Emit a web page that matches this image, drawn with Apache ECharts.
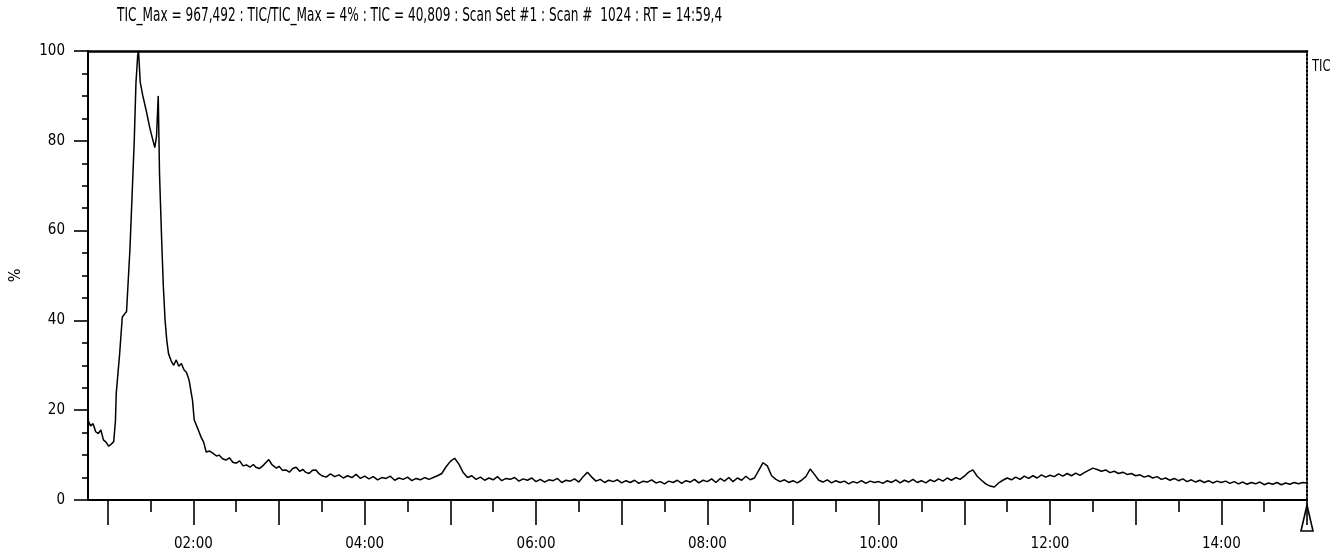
<!DOCTYPE html>
<html>
<head>
<meta charset="utf-8">
<title>TIC</title>
<script src="https://cdn.jsdelivr.net/npm/echarts@6/dist/echarts.min.js"></script>
<style>
  html, body { margin: 0; padding: 0; background: #fff; }
  #chart { width: 1335px; height: 558px; }
</style>
</head>
<body>
<div id="chart"></div>
<script>
// retention time (min) and relative abundance (%)
// main peak region
const peakRt = [
  0.77, 0.80, 0.83, 0.86, 0.89, 0.92, 0.95, 0.98, 1.01, 1.04, 1.07, 1.09, 1.10, 1.14, 1.17, 1.20,
  1.22, 1.24, 1.26, 1.29, 1.31, 1.33, 1.35, 1.36, 1.38, 1.41, 1.45, 1.49, 1.52, 1.55, 1.57, 1.59,
  1.605, 1.63, 1.65, 1.67, 1.69, 1.71, 1.74, 1.77, 1.80, 1.83, 1.86, 1.89, 1.92, 1.95, 1.99, 2.01,
  2.06, 2.09, 2.12, 2.15, 2.19, 2.23, 2.27, 2.30, 2.34, 2.38, 2.42, 2.46, 2.50, 2.54, 2.58, 2.62,
  2.66, 2.70, 2.73, 2.77, 2.81, 2.85, 2.88, 2.92, 2.97, 3.00, 3.04, 3.08, 3.12, 3.16, 3.20, 3.24,
  3.28, 3.31, 3.35, 3.39, 3.43, 3.47, 3.50
]
const peakAbund = [
  17.8, 16.5, 17.0, 15.2, 14.8, 15.6, 13.4, 12.9, 12.0, 12.4, 13.0, 17.5, 23.8, 32.7, 40.7, 41.5,
  42.0, 49.0, 56.0, 70.4, 80.0, 93.0, 99.0, 100.0, 93.0, 90.0, 86.7, 83.0, 80.7, 78.5, 81.0, 90.0,
  72.6, 57.8, 47.4, 40.0, 35.5, 32.6, 31.0, 30.0, 31.2, 29.8, 30.4, 29.0, 28.4, 26.7, 22.2, 17.8,
  15.5, 14.0, 12.9, 10.7, 10.9, 10.4, 9.8, 10.0, 9.2, 8.9, 9.4, 8.4, 8.2, 8.7, 7.6, 7.8,
  7.3, 7.9, 7.3, 7.0, 7.6, 8.4, 9.0, 7.8, 7.1, 7.5, 6.6, 6.7, 6.2, 7.0, 7.3, 6.4,
  6.8, 6.2, 5.9, 6.6, 6.7, 5.8, 5.4
]
// baseline after the peak
const tailRt = [
  3.55, 3.60, 3.65, 3.70, 3.75, 3.80, 3.85, 3.90, 3.95, 4.00,
  4.05, 4.10, 4.15, 4.20, 4.25, 4.30, 4.35, 4.40, 4.45, 4.50, 4.55, 4.60, 4.65, 4.70, 4.75, 4.80, 4.85, 4.90, 4.95, 5.00,
  5.05, 5.10, 5.15, 5.20, 5.25, 5.30, 5.35, 5.40, 5.45, 5.50, 5.55, 5.60, 5.65, 5.70, 5.75, 5.80, 5.85, 5.90, 5.95, 6.00,
  6.05, 6.10, 6.15, 6.20, 6.25, 6.30, 6.35, 6.40, 6.45, 6.50, 6.55, 6.60, 6.65, 6.70, 6.75, 6.80, 6.85, 6.90, 6.95, 7.00,
  7.05, 7.10, 7.15, 7.20, 7.25, 7.30, 7.35, 7.40, 7.45, 7.50, 7.55, 7.60, 7.65, 7.70, 7.75, 7.80, 7.85, 7.90, 7.95, 8.00,
  8.05, 8.10, 8.15, 8.20, 8.25, 8.30, 8.35, 8.40, 8.45, 8.50, 8.55, 8.60, 8.65, 8.70, 8.75, 8.80, 8.85, 8.90, 8.95, 9.00,
  9.05, 9.10, 9.15, 9.20, 9.25, 9.30, 9.35, 9.40, 9.45, 9.50, 9.55, 9.60, 9.65, 9.70, 9.75, 9.80, 9.85, 9.90, 9.95, 10.00,
  10.05, 10.10, 10.15, 10.20, 10.25, 10.30, 10.35, 10.40, 10.45, 10.50, 10.55, 10.60, 10.65, 10.70, 10.75, 10.80, 10.85, 10.90, 10.95, 11.00,
  11.05, 11.10, 11.15, 11.20, 11.25, 11.30, 11.35, 11.40, 11.45, 11.50, 11.55, 11.60, 11.65, 11.70, 11.75, 11.80, 11.85, 11.90, 11.95, 12.00,
  12.05, 12.10, 12.15, 12.20, 12.25, 12.30, 12.35, 12.40, 12.45, 12.50, 12.55, 12.60, 12.65, 12.70, 12.75, 12.80, 12.85, 12.90, 12.95, 13.00,
  13.05, 13.10, 13.15, 13.20, 13.25, 13.30, 13.35, 13.40, 13.45, 13.50, 13.55, 13.60, 13.65, 13.70, 13.75, 13.80, 13.85, 13.90, 13.95, 14.00,
  14.05, 14.10, 14.15, 14.20, 14.25, 14.30, 14.35, 14.40, 14.45, 14.50, 14.55, 14.60, 14.65, 14.70, 14.75, 14.80, 14.85, 14.90, 14.95, 15.00
]
const tailAbund = [
  5.1, 5.8, 5.2, 5.6, 4.9, 5.4, 5.0, 5.7, 4.8, 5.3,
  4.7, 5.2, 4.5, 5.0, 4.8, 5.3, 4.4, 4.9, 4.6, 5.1, 4.3, 4.8, 4.5, 5.0, 4.6, 5.0, 5.4, 5.9, 7.4, 8.6,
  9.3, 8.0, 6.1, 5.0, 5.4, 4.6, 5.1, 4.4, 4.9, 4.5, 5.2, 4.3, 4.8, 4.6, 5.0, 4.2, 4.7, 4.4, 4.9, 4.1,
  4.6, 4.0, 4.5, 4.3, 4.8, 3.9, 4.4, 4.2, 4.7, 4.0, 5.2, 6.2, 5.1, 4.2, 4.6, 3.9, 4.4, 4.1, 4.5, 3.8,
  4.3, 3.9, 4.4, 3.7, 4.2, 4.0, 4.5, 3.8, 4.1, 3.6, 4.2, 3.9, 4.4, 3.7, 4.3, 4.0, 4.6, 3.8, 4.4, 4.1,
  4.7, 3.9, 4.8, 4.2, 5.0, 4.1, 4.9, 4.4, 5.3, 4.5, 4.9, 6.6, 8.3, 7.6, 5.4, 4.6, 4.1, 4.5, 3.9, 4.3,
  3.8, 4.4, 5.2, 6.9, 5.7, 4.4, 4.0, 4.5, 3.8, 4.3, 3.9, 4.2, 3.6, 4.1, 3.8, 4.3, 3.7, 4.2, 3.9, 4.1,
  3.7, 4.3, 3.9, 4.5, 3.8, 4.4, 4.0, 4.6, 3.9, 4.3, 3.8, 4.5, 4.1, 4.7, 4.2, 4.9, 4.4, 5.0, 4.6, 5.3,
  6.2, 6.7, 5.3, 4.4, 3.6, 3.1, 2.9, 3.8, 4.4, 4.9, 4.5, 5.1, 4.6, 5.3, 4.8, 5.4, 4.9, 5.6, 5.1, 5.5,
  5.2, 5.8, 5.3, 5.9, 5.4, 6.0, 5.5, 6.1, 6.6, 7.1, 6.8, 6.4, 6.7, 6.1, 6.4, 5.9, 6.2, 5.7, 5.9, 5.4,
  5.6, 5.1, 5.4, 4.9, 5.2, 4.6, 4.9, 4.4, 4.8, 4.3, 4.7, 4.1, 4.5, 4.0, 4.4, 3.9, 4.3, 3.8, 4.2, 3.9,
  4.2, 3.7, 4.1, 3.6, 4.0, 3.5, 3.9, 3.6, 4.0, 3.4, 3.8, 3.5, 3.9, 3.4, 3.8, 3.5, 3.9, 3.6, 3.9, 3.8
]
// axis ticks (min)
const wholeMinTicks = [1, 2, 3, 4, 5, 6, 7, 8, 9, 10, 11, 12, 13, 14, 15]
const halfMinTicks = [1.5, 2.5, 3.5, 4.5, 5.5, 6.5, 7.5, 8.5, 9.5, 10.5, 11.5, 12.5, 13.5, 14.5]
const labelTicks = [2, 4, 6, 8, 10, 12, 14]

const titleText = 'TIC_Max = 967,492 : TIC/TIC_Max = 4% : TIC = 40,809 : Scan Set #1 : Scan #  1024 : RT = 14:59,4'
const rtStart = 0.77
const rtEnd = 15.0

const font = '"Liberation Sans Narrow", "DejaVu Sans Condensed", "Liberation Sans", sans-serif'
const ink = '#000'

function fmtTime (v) {
  const m = Math.round(v)
  return (m < 10 ? '0' + m : '' + m) + ':00'
}

const traceData = peakRt.map((t, i) => [t, peakAbund[i]])
  .concat(tailRt.map((t, i) => [t, tailAbund[i]]))

const chart = echarts.init(document.getElementById('chart'))

const baseX = {
  type: 'value',
  min: rtStart,
  max: rtEnd,
  position: 'bottom',
  offset: 2,
  splitLine: { show: false }
}

chart.setOption({
  animation: false,
  backgroundColor: '#fff',
  grid: { left: 81, right: 28, top: 51, bottom: 58, containLabel: false },
  xAxis: [
    // whole minutes: long ticks + labels
    Object.assign({}, baseX, {
      axisLine: { show: true, lineStyle: { color: ink, width: 2 } },
      axisTick: { show: true, length: 25, customValues: wholeMinTicks, lineStyle: { color: ink, width: 1.6 } },
      axisLabel: {
        show: true,
        customValues: labelTicks,
        margin: 35,
        formatter: fmtTime,
        fontFamily: font,
        fontSize: 15,
        color: ink
      }
    }),
    // half minutes: short ticks
    Object.assign({}, baseX, {
      axisLine: { show: false },
      axisTick: { show: true, length: 12, customValues: halfMinTicks, lineStyle: { color: ink, width: 1.6 } },
      axisLabel: { show: false }
    }),
    // top frame line
    {
      type: 'value',
      min: rtStart,
      max: rtEnd,
      position: 'top',
      axisLine: { show: true, lineStyle: { color: ink, width: 2.5 } },
      axisTick: { show: false },
      axisLabel: { show: false },
      splitLine: { show: false }
    }
  ],
  yAxis: [
    {
      type: 'value',
      min: 0,
      max: 100,
      interval: 20,
      name: '%',
      nameLocation: 'middle',
      nameGap: 64,
      nameRotate: 90,
      nameTextStyle: { fontFamily: font, fontSize: 16, color: ink },
      axisLine: { show: true, lineStyle: { color: ink, width: 2 } },
      axisTick: { show: true, length: 14, lineStyle: { color: ink, width: 1.6 } },
      minorTick: { show: true, splitNumber: 4, length: 6, lineStyle: { color: ink, width: 1.6 } },
      axisLabel: { margin: 23, fontFamily: font, fontSize: 15, color: ink },
      splitLine: { show: false }
    },
    // dotted right frame
    {
      type: 'value',
      min: 0,
      max: 100,
      position: 'right',
      axisLine: { show: true, lineStyle: { color: ink, width: 2, type: [2, 2] } },
      axisTick: { show: false },
      axisLabel: { show: false },
      splitLine: { show: false }
    }
  ],
  series: [
    {
      name: 'TIC',
      type: 'line',
      data: traceData,
      showSymbol: false,
      lineStyle: { color: ink, width: 1.5 }
    }
  ]
})

// header text (condensed), series name and the RT end marker
const endX = chart.convertToPixel({ xAxisIndex: 0 }, rtEnd)
const baseY = chart.convertToPixel({ yAxisIndex: 0 }, 0)
chart.setOption({
  graphic: [
    {
      type: 'text',
      x: 117,
      y: 7,
      scaleX: 0.71,
      style: { text: titleText, fontFamily: font, fontSize: 19, fill: ink }
    },
    {
      type: 'text',
      x: 1312,
      y: 59,
      scaleX: 0.8,
      style: { text: 'TIC', fontFamily: font, fontSize: 16, fill: ink }
    },
    {
      type: 'polygon',
      shape: { points: [[endX, baseY + 5], [endX - 6, baseY + 31], [endX + 6, baseY + 31]] },
      style: { fill: '#fff', stroke: ink, lineWidth: 1.6 }
    }
  ]
})
</script>
</body>
</html>
